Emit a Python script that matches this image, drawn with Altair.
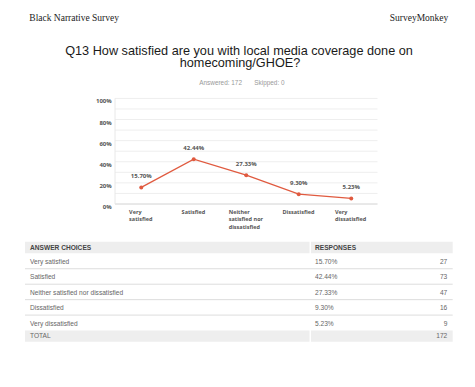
import altair as alt
import pandas as pd

# ---------------- data ----------------
survey_name = "Black Narrative Survey"
brand = "SurveyMonkey"
question_lines = ["Q13 How satisfied are you with local media coverage done on", "homecoming/GHOE?"]
answered_text = "Answered: 172"
skipped_text = "Skipped: 0"

categories = ["Very satisfied", "Satisfied", "Neither satisfied nor dissatisfied",
              "Dissatisfied", "Very dissatisfied"]
x_labels = ["Very\nsatisfied", "Satisfied", "Neither\nsatisfied nor\ndissatisfied",
            "Dissatisfied", "Very\ndissatisfied"]
percents = [15.70, 42.44, 27.33, 9.30, 5.23]
counts = [27, 73, 47, 16, 9]
total_count = 172

y_tick_values = [0, 20, 40, 60, 80, 100]
grid_values = [0, 10, 20, 30, 40, 50, 60, 70, 80, 90, 100]
table_headers = ["ANSWER CHOICES", "RESPONSES"]
total_label = "TOTAL"

# ---------------- styles ----------------
W, H = 459, 371
LINE_COLOR = "#E05A3F"
UI_FONT = "Open Sans"
TABLE_FONT = "Liberation Sans"
SERIF = "Liberation Serif"

df = pd.DataFrame({
    "cat": categories,
    "xl": x_labels,
    "pct": percents,
    "count": counts,
    "row": list(range(1, len(categories) + 1)),
})

xs = alt.Scale(type="point", domain=categories, range=[107, 369.5], padding=0.5)
ys = alt.Scale(domain=[0, 100], range=[196, 90.4], nice=False, zero=True)
ts = alt.Scale(domain=[0, 5], range=[245.3, 322.55], nice=False, zero=False)


def one_text(t, x, y, **kw):
    return alt.Chart(pd.DataFrame({"t": [t]})).mark_text(**kw).encode(
        text="t:N", x=alt.value(x), y=alt.value(y))


# ---------------- page header ----------------
hdr_left = one_text(survey_name, 21.3, 10.3, align="left", baseline="middle",
                    font=SERIF, fontSize=9.5, color="#222")
hdr_right = one_text(brand, 440.3, 10.3, align="right", baseline="middle",
                     font=SERIF, fontSize=9.5, color="#222")
title1 = one_text(question_lines[0], 231, 42.7, align="center", baseline="middle",
                  font=TABLE_FONT, fontSize=12.7, color="#1a1a1a")
title2 = one_text(question_lines[1], 232, 55.3, align="center", baseline="middle",
                  font=TABLE_FONT, fontSize=12.7, color="#1a1a1a")
ans1 = one_text(answered_text, 191.3, 74.7, align="left", baseline="middle",
                font=TABLE_FONT, fontSize=6.4, color="#999")
ans2 = one_text(skipped_text, 246.3, 74.7, align="left", baseline="middle",
                font=TABLE_FONT, fontSize=6.4, color="#999")

# ---------------- line chart ----------------
grid = alt.Chart(pd.DataFrame({"v": grid_values})).mark_rule(
    color="#eeeeee", strokeWidth=1
).encode(y=alt.Y("v:Q", scale=ys, axis=None), x=alt.value(107), x2=alt.value(369.5))

zero_line = alt.Chart(pd.DataFrame({"v": [0]})).mark_rule(
    color="#dadada", strokeWidth=1
).encode(y=alt.Y("v:Q", scale=ys, axis=None), x=alt.value(107), x2=alt.value(369.5))

y_axis_line = alt.Chart(pd.DataFrame({"v": [0, 100]})).mark_rule(
    color="#e8e8e8", strokeWidth=1
).encode(
    y=alt.Y("min(v):Q", scale=ys, axis=None), y2="max(v):Q", x=alt.value(107)
)

y_labels = alt.Chart(pd.DataFrame({"v": y_tick_values})).transform_calculate(
    lab="datum.v + '%'"
).mark_text(
    align="right", baseline="middle", dy=3, font=UI_FONT, fontSize=6,
    fontWeight="bold", color="#555"
).encode(y=alt.Y("v:Q", scale=ys, axis=None), x=alt.value(103.7), text="lab:N")

line = alt.Chart(df).mark_line(color=LINE_COLOR, strokeWidth=1.3).encode(
    x=alt.X("cat:N", scale=xs, sort=categories, axis=None),
    y=alt.Y("pct:Q", scale=ys, axis=None),
)
points = alt.Chart(df).mark_circle(color=LINE_COLOR, size=16, opacity=1).encode(
    x=alt.X("cat:N", scale=xs, sort=categories, axis=None),
    y=alt.Y("pct:Q", scale=ys, axis=None),
)
val_labels = alt.Chart(df).transform_calculate(
    lab="format(datum.pct, '.2f') + '%'"
).mark_text(
    dy=-11, baseline="middle", align="center", font=UI_FONT, fontSize=6,
    fontWeight="bold", color="#555"
).encode(
    x=alt.X("cat:N", scale=xs, sort=categories, axis=None),
    y=alt.Y("pct:Q", scale=ys, axis=None),
    text="lab:N",
)

x_labels_layer = alt.Chart(df).transform_calculate(
    off="-1.35*max(length(split(datum.xl,'\\n')[0]), length(split(datum.xl,'\\n')[1]||''), length(split(datum.xl,'\\n')[2]||''))"
).mark_text(
    align="left", baseline="top", lineBreak="\n", lineHeight=7.3, font=UI_FONT,
    fontSize=5.5, fontWeight="bold", color="#555"
).encode(
    x=alt.X("cat:N", scale=xs, sort=categories, axis=None),
    xOffset=alt.XOffset("off:Q", scale=None),
    y=alt.value(202),
    text="xl:N",
)

# ---------------- table ----------------
def bg(x1, x2, y1, y2):
    return alt.Chart(pd.DataFrame({"a": [0]})).mark_rect(color="#eeeeee").encode(
        x=alt.value(x1), x2=alt.value(x2), y=alt.value(y1), y2=alt.value(y2))


hdr_bg1 = bg(17, 301.5, 233.7, 245.3)
hdr_bg2 = bg(303, 444.7, 233.7, 245.3)
tot_bg1 = bg(17, 301.5, 322.6, 333.7)
tot_bg2 = bg(303, 444.7, 322.6, 333.7)

sep = alt.Chart(df[df["row"] < len(categories)]).mark_rule(color="#dddddd", strokeWidth=1).encode(
    y=alt.Y("row:Q", scale=ts, axis=None), x=alt.value(17), x2=alt.value(444.7))

hdr_text1 = one_text(table_headers[0], 22, 239.7, align="left", baseline="middle",
                     font=TABLE_FONT, fontSize=6.6, fontWeight="bold", color="#444")
hdr_text2 = one_text(table_headers[1], 307, 239.7, align="left", baseline="middle",
                     font=TABLE_FONT, fontSize=6.6, fontWeight="bold", color="#444")

row_base = alt.Chart(df).transform_calculate(
    mid="datum.row - 0.5",
    plab="format(datum.pct, '.2f') + '%'",
)
row_choice = row_base.mark_text(
    align="left", baseline="middle", dy=1, font=TABLE_FONT, fontSize=6.6, color="#666"
).encode(y=alt.Y("mid:Q", scale=ts, axis=None), x=alt.value(22), text="cat:N")
row_pct = row_base.mark_text(
    align="left", baseline="middle", dy=1, font=TABLE_FONT, fontSize=6.6, color="#666"
).encode(y=alt.Y("mid:Q", scale=ts, axis=None), x=alt.value(307), text="plab:N")
row_cnt = row_base.mark_text(
    align="right", baseline="middle", dy=1, font=TABLE_FONT, fontSize=6.6, color="#666"
).encode(y=alt.Y("mid:Q", scale=ts, axis=None), x=alt.value(439.3), text="count:Q")

tot_text = one_text(total_label, 22, 328.2, align="left", baseline="middle",
                    font=TABLE_FONT, fontSize=6.6, color="#666")
tot_cnt = one_text(str(total_count), 439.3, 328.2, align="right", baseline="middle",
                   font=TABLE_FONT, fontSize=6.6, color="#666")

chart = alt.layer(
    hdr_left, hdr_right, title1, title2, ans1, ans2,
    grid, zero_line, y_axis_line, y_labels, line, points, val_labels, x_labels_layer,
    hdr_bg1, hdr_bg2, tot_bg1, tot_bg2, sep, hdr_text1, hdr_text2,
    row_choice, row_pct, row_cnt, tot_text, tot_cnt,
).resolve_scale(
    x="independent", y="independent"
).properties(
    width=W, height=H, padding=0, background="white",
    autosize=alt.AutoSizeParams(type="none"),
).configure_view(strokeWidth=0)

chart.save("out.html", embed_options={"renderer": "svg", "actions": False})
